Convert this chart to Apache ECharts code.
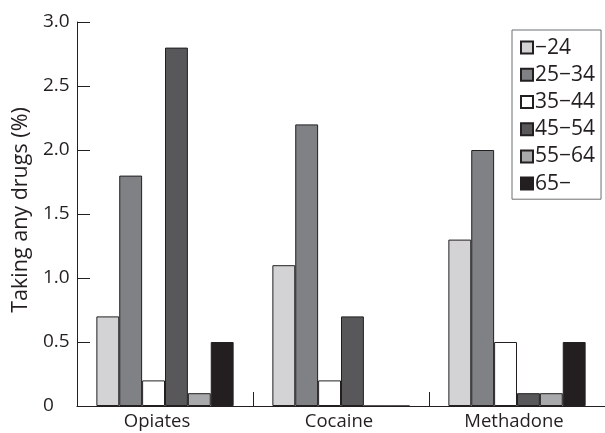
<!DOCTYPE html>
<html>
<head>
<meta charset="utf-8">
<script src="https://cdn.jsdelivr.net/npm/echarts@6/dist/echarts.min.js"></script>
<style>
  html, body { margin: 0; padding: 0; background: #fff; }
  #chart { width: 605px; height: 433px; }
</style>
</head>
<body>
<div id="chart"></div>
<script>
// Drug categories on the x axis
const categories = ['Opiates', 'Cocaine', 'Methadone'];

// Age groups and their fill colours
const ageGroups = ['\u221224', '25\u221234', '35\u221244', '45\u221254', '55\u221264', '65\u2212'];
const groupColors = ['#d3d3d5', '#808184', '#ffffff', '#58585a', '#a8a9ab', '#231f20'];

// Percentage taking any drugs, one array per age group (Opiates, Cocaine, Methadone)
const ageUnder24 = [0.7, 1.1, 1.3];
const age25to34 = [1.8, 2.2, 2.0];
const age35to44 = [0.2, 0.2, 0.5];
const age45to54 = [2.8, 0.7, 0.1];
const age55to64 = [0.1, 0, 0.1];
const age65plus = [0.5, 0, 0.5];

const seriesValues = [ageUnder24, age25to34, age35to44, age45to54, age55to64, age65plus];

const ink = '#231f20';
const fontFamily = '"Open Sans", Lato, sans-serif';

// Right padding per category label (nudges each label slightly left of its group centre)
const labelNudge = [16, 4, 6];

const chart = echarts.init(document.getElementById('chart'), null, { renderer: 'canvas' });

chart.setOption({
  animation: false,
  backgroundColor: '#ffffff',
  textStyle: { fontFamily: fontFamily, color: ink },
  grid: { left: 77, right: -9, top: 22, bottom: 27, containLabel: false },
  legend: {
    orient: 'vertical',
    left: 512,
    top: 30,
    width: 92,
    padding: [4, 6, 2, 8],
    itemGap: 0,
    itemWidth: 12,
    itemHeight: 12,
    icon: 'rect',
    borderColor: '#6d6e70',
    borderWidth: 1,
    borderRadius: 0,
    textStyle: { fontFamily: fontFamily, fontSize: 21, color: ink, padding: [0, 0, 0, -3], lineHeight: 27.2 },
    data: ageGroups
  },
  xAxis: {
    type: 'category',
    data: categories,
    axisLine: { lineStyle: { color: ink, width: 1 } },
    axisTick: { show: true, inside: true, interval: 0, length: 14, lineStyle: { color: ink } },
    axisLabel: {
      interval: 0,
      hideOverlap: false,
      fontSize: 18.5,
      color: ink,
      margin: 6,
      fontFamily: fontFamily,
      formatter: function (v, i) { return '{c' + i + '|' + v + '}'; },
      rich: {
        c0: { fontSize: 18.5, color: ink, fontFamily: fontFamily, padding: [0, labelNudge[0], 0, 0] },
        c1: { fontSize: 18.5, color: ink, fontFamily: fontFamily, padding: [0, labelNudge[1], 0, 0] },
        c2: { fontSize: 18.5, color: ink, fontFamily: fontFamily, padding: [0, labelNudge[2], 0, 0] }
      }
    }
  },
  yAxis: {
    type: 'value',
    min: 0,
    max: 3,
    interval: 0.5,
    name: 'Taking any drugs (%)',
    nameLocation: 'middle',
    nameGap: 44,
    nameTextStyle: { fontSize: 21.5, color: ink, fontFamily: fontFamily, padding: [0, 0, 0, 8] },
    splitLine: { show: false },
    axisLine: { show: true, lineStyle: { color: ink, width: 1 } },
    axisTick: { show: true, inside: true, length: 13, lineStyle: { color: ink } },
    axisLabel: {
      fontSize: 19,
      color: ink,
      margin: 34,
      align: 'left',
      fontFamily: fontFamily,
      formatter: function (v) { return v === 0 ? '0' : v.toFixed(1); }
    }
  },
  series: ageGroups.map(function (name, i) {
    return {
      name: name,
      type: 'bar',
      data: seriesValues[i],
      barGap: '0%',
      barCategoryGap: '22%',
      itemStyle: { color: groupColors[i], borderColor: ink, borderWidth: 1 }
    };
  })
});
</script>
</body>
</html>
